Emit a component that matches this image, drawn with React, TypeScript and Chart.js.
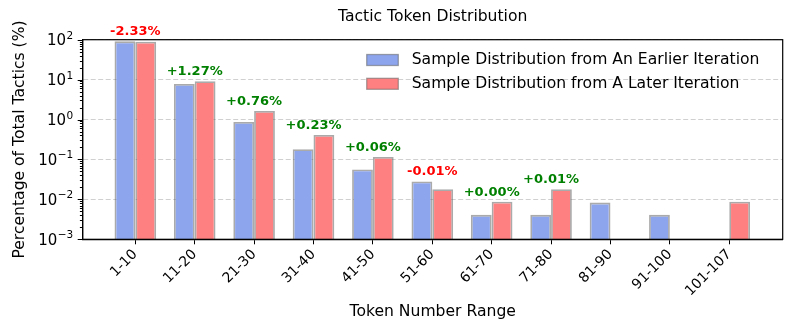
import React, { useEffect, useRef } from "react";
import { Chart, registerables } from "chart.js";

Chart.register(...registerables);

const categories = ["1-10", "11-20", "21-30", "31-40", "41-50", "51-60", "61-70", "71-80", "81-90", "91-100", "101-107"];
const earlier: (number | null)[] = [91.05, 7.8, 0.87, 0.18, 0.056, 0.028, 0.0041, 0.0041, 0.0083, 0.0041, null];
const later: (number | null)[] = [88.72, 9.07, 1.63, 0.41, 0.116, 0.018, 0.0087, 0.018, null, null, 0.0087];
const seriesNames = ["Sample Distribution from An Earlier Iteration", "Sample Distribution from A Later Iteration"];
const yTicks = [1e-3, 1e-2, 1e-1, 1e0, 1e1, 1e2];
const yTickExponents = ["−3", "−2", "−1", "0", "1", "2"];
const titleText = "Tactic Token Distribution";
const xTitle = "Token Number Range";
const yTitle = "Percentage of Total Tactics (%)";

const BLUE = "rgb(141,165,237)";
const RED = "rgb(255,128,128)";
const EDGE = "rgba(100,100,100,0.55)";
const FONT = "'DejaVu Sans', sans-serif";

const overlay = {
  id: "overlay",
  afterDatasetsDraw(chart: any) {
    const { ctx, chartArea: a, scales } = chart;
    const xs = scales.x;
    const ys = scales.y;
    ctx.save();
    ctx.setLineDash([]);
    // annotations
    ctx.font = `bold 13px ${FONT}`;
    ctx.textAlign = "center";
    ctx.textBaseline = "middle";
    for (let i = 0; i < categories.length; i++) {
      const e = earlier[i];
      const l = later[i];
      if (e == null || l == null) continue;
      const d = l - e;
      const txt = (d >= 0 ? "+" : "") + d.toFixed(2) + "%";
      const top = Math.min(ys.getPixelForValue(e), ys.getPixelForValue(l));
      ctx.fillStyle = d >= 0 ? "#008000" : "#ff0000";
      ctx.fillText(txt, xs.getPixelForValue(i), top - 9.5);
    }
    // spines
    ctx.strokeStyle = "#000";
    ctx.lineWidth = 1.2;
    ctx.strokeRect(a.left, a.top, a.right - a.left, a.bottom - a.top);
    // y ticks
    ctx.lineWidth = 1;
    ctx.beginPath();
    for (let e = -3; e <= 2; e++) {
      const y = Math.round(ys.getPixelForValue(Math.pow(10, e))) + 0.5;
      ctx.moveTo(a.left - 5, y);
      ctx.lineTo(a.left, y);
      if (e < 2) {
        for (let k = 2; k <= 9; k++) {
          const ym = Math.round(ys.getPixelForValue(k * Math.pow(10, e))) + 0.5;
          ctx.moveTo(a.left - 2.8, ym);
          ctx.lineTo(a.left, ym);
        }
      }
    }
    ctx.stroke();
    // y tick labels (10^n)
    ctx.fillStyle = "#000";
    ctx.textAlign = "left";
    ctx.textBaseline = "alphabetic";
    const right = a.left - 10;
    for (let i = 0; i < yTicks.length; i++) {
      const y = ys.getPixelForValue(yTicks[i]);
      ctx.font = `10.5px ${FONT}`;
      const we = ctx.measureText(yTickExponents[i]).width;
      ctx.font = `15px ${FONT}`;
      const wm = ctx.measureText("10").width;
      const x0 = right - we - wm;
      ctx.fillText("10", x0, y + 5.5);
      ctx.font = `10.5px ${FONT}`;
      ctx.fillText(yTickExponents[i], x0 + wm + 0.5, y - 1);
    }
    ctx.restore();
  },
  afterDraw(chart: any) {
    const { ctx, chartArea: a } = chart;
    ctx.save();
    ctx.setLineDash([]);
    ctx.fillStyle = "#000";
    ctx.font = `15.6px ${FONT}`;
    ctx.textAlign = "center";
    ctx.textBaseline = "middle";
    const cx = (a.left + a.right) / 2;
    ctx.fillText(titleText, cx, 17.3);
    ctx.fillText(xTitle, cx, 311.7);
    ctx.save();
    ctx.translate(19.5, (a.top + a.bottom) / 2);
    ctx.rotate(-Math.PI / 2);
    ctx.fillText(yTitle, 0, 0);
    ctx.restore();
    // legend
    const colors = [BLUE, RED];
    const rows = [60, 83.8];
    ctx.textAlign = "left";
    for (let i = 0; i < 2; i++) {
      const y = rows[i];
      ctx.fillStyle = "#fff";
      ctx.fillRect(366.7, y - 5.5, 31.6, 11);
      ctx.fillStyle = colors[i];
      ctx.fillRect(366.7, y - 5.5, 31.6, 11);
      ctx.strokeStyle = EDGE;
      ctx.lineWidth = 1.3;
      ctx.strokeRect(366.7, y - 5.5, 31.6, 11);
      ctx.fillStyle = "#000";
      ctx.fillText(seriesNames[i], 411.7, y);
    }
    ctx.restore();
  },
};

export default function App() {
  const ref = useRef<HTMLCanvasElement>(null);
  useEffect(() => {
    if (!ref.current) return;
    Chart.defaults.font.family = FONT;
    const chart = new Chart(ref.current, {
      type: "bar",
      data: {
        datasets: [
          {
            label: seriesNames[0],
            data: earlier.map((v, i) => ({ x: i, y: v })) as any,
            backgroundColor: BLUE,
            borderColor: EDGE,
            borderWidth: 1.8,
            categoryPercentage: 0.7,
            barPercentage: 1,
          },
          {
            label: seriesNames[1],
            data: later.map((v, i) => ({ x: i, y: v })) as any,
            backgroundColor: RED,
            borderColor: EDGE,
            borderWidth: 1.8,
            categoryPercentage: 0.7,
            barPercentage: 1,
          },
        ],
      },
      options: {
        animation: false,
        responsive: false,
        maintainAspectRatio: false,
        layout: { padding: { left: 0, right: 11.3, top: 39.7, bottom: 0 } },
        plugins: { legend: { display: false }, title: { display: false }, tooltip: { enabled: false } },
        scales: {
          x: {
            type: "linear",
            offset: false,
            min: -0.886,
            max: 10.9,
            afterBuildTicks: (s: any) => {
              s.ticks = categories.map((_, i) => ({ value: i }));
            },
            afterFit: (s: any) => {
              s.height = 92.7;
            },
            ticks: {
              autoSkip: false,
              minRotation: 45,
              maxRotation: 45,
              padding: 2,
              color: "#000",
              font: { size: 14 },
              callback: (v: any) => categories[v as number] ?? "",
            },
            grid: { display: true, offset: false, drawOnChartArea: false, drawTicks: true, tickLength: 5, tickColor: "#000", tickWidth: 1 },
            border: { display: true, color: "#000", width: 1.2 },
          },
          y: {
            type: "logarithmic",
            min: 1e-3,
            max: 1e2,
            afterBuildTicks: (s: any) => {
              s.ticks = yTicks.map((v) => ({ value: v }));
            },
            afterFit: (s: any) => {
              s.width = 82.7;
            },
            ticks: {
              autoSkip: false,
              padding: 8,
              color: "#000",
              font: { size: 14 },
              callback: () => "",
            },
            grid: { display: true, drawOnChartArea: true, drawTicks: false, color: "#d0d0d0", lineWidth: 1 },
            border: { display: true, color: "#000", width: 1.2, dash: [5, 2.5] },
          },
        },
      },
      plugins: [overlay],
    } as any);
    return () => chart.destroy();
  }, []);
  return (
    <div style={{ position: "fixed", left: 0, top: 0, width: 794, height: 332, background: "#fff" }}>
      <canvas ref={ref} width={794} height={332} />
    </div>
  );
}
